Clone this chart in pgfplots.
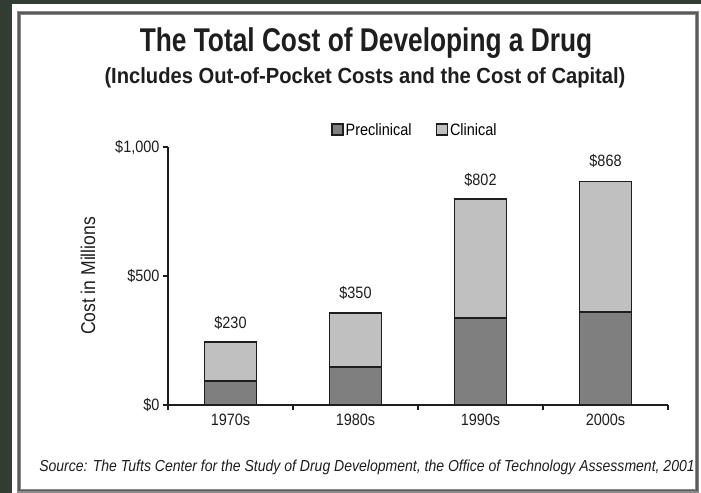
\documentclass[border=0pt]{standalone}
\usepackage{pgfplots}
\pgfplotsset{compat=1.18}
\usepackage{fontspec}
\setmainfont[FakeStretch=0.88]{Liberation Sans}
\newfontfamily\titlefont[FakeStretch=0.8]{Liberation Sans}
\newfontfamily\subfont[FakeStretch=0.92]{Liberation Sans}
\newfontfamily\srcfont[FakeStretch=0.88]{Liberation Sans}
\definecolor{darkbg}{HTML}{313C33}
\definecolor{frame}{HTML}{5A5A5A}
\definecolor{precl}{HTML}{7F7F7F}
\definecolor{clin}{HTML}{C0C0C0}
\definecolor{txt}{HTML}{1E1E1E}
\begin{document}
\begin{tikzpicture}
\useasboundingbox (0bp,0bp) rectangle (701bp,493bp);
% background
\fill[darkbg] (0bp,0bp) rectangle (701bp,493bp);
\fill[white] (12bp,0bp) rectangle (701bp,489bp);
\draw[frame!70,line width=3.2bp] (19bp,2bp) rectangle (697bp,480bp);
\draw[frame,line width=1.6bp] (19bp,2.5bp) rectangle (697bp,480bp);
% titles
\node[txt,anchor=base,font=\titlefont\bfseries\fontsize{33}{36}\selectfont] at (366bp,441bp) {The Total Cost of Developing a Drug};
\node[txt,anchor=base,font=\subfont\bfseries\fontsize{22}{24}\selectfont] at (365bp,409bp) {(Includes Out-of-Pocket Costs and the Cost of Capital)};
\node[txt,rotate=90,font=\fontsize{20}{22}\selectfont] at (88bp,217bp) {Cost in Millions};
\node[txt,anchor=base,font=\srcfont\itshape\fontsize{16}{18}\selectfont] at (367bp,22bp) {Source: The Tufts Center for the Study of Drug Development, the Office of Technology Assessment, 2001};
\begin{axis}[
  at={(168bp,88bp)}, anchor=south west,
  scale only axis, width=500bp, height=258bp,
  xmin=-0.5, xmax=3.5, ymin=0, ymax=1000,
  ybar stacked, bar width=52bp,
  axis lines*=left,
  axis line style={txt,line width=1.6bp},
  xtick={-0.5,0.5,1.5,2.5,3.5}, xticklabels={},
  extra x ticks={0,1,2,3},
  extra x tick labels={1970s,1980s,1990s,2000s},
  extra x tick style={major tick length=0pt, tick label style={yshift=-6bp}},
  ytick={0,500,1000},
  yticklabels={\$0,\$500,\$1{,}000},
  tick style={txt,line width=1.3bp},
  major tick length=5bp,
  tick align=outside,
  xtick pos=bottom, ytick pos=left,
  ticklabel style={txt,font=\fontsize{16.5}{18}\selectfont},
  /pgf/number format/assume math mode=true,
  legend style={at={(0.494,1.066)}, anchor=center, draw=none, fill=none,
    legend columns=2, font=\fontsize{16.5}{18}\selectfont,
    /tikz/every even column/.append style={column sep=22bp}},
  legend image code/.code={\draw[#1,draw=txt,line width=1.4bp] (0bp,-5bp) rectangle (11bp,6bp);},
  clip=false,
]
\addplot[fill=precl,draw=txt,line width=1.8bp] coordinates {(0,93) (1,147) (2,337) (3,362)};
\addplot[fill=clin,draw=txt,line width=1.8bp] coordinates {(0,151) (1,211) (2,461) (3,504)};
\legend{Preclinical,Clinical}
\node[txt,anchor=base,font=\fontsize{16.5}{18}\selectfont] at (axis cs:0,244) [yshift=14bp] {\$230};
\node[txt,anchor=base,font=\fontsize{16.5}{18}\selectfont] at (axis cs:1,358) [yshift=14bp] {\$350};
\node[txt,anchor=base,font=\fontsize{16.5}{18}\selectfont] at (axis cs:2,798) [yshift=14bp] {\$802};
\node[txt,anchor=base,font=\fontsize{16.5}{18}\selectfont] at (axis cs:3,866) [yshift=15bp] {\$868};
\end{axis}
\end{tikzpicture}
\end{document}
